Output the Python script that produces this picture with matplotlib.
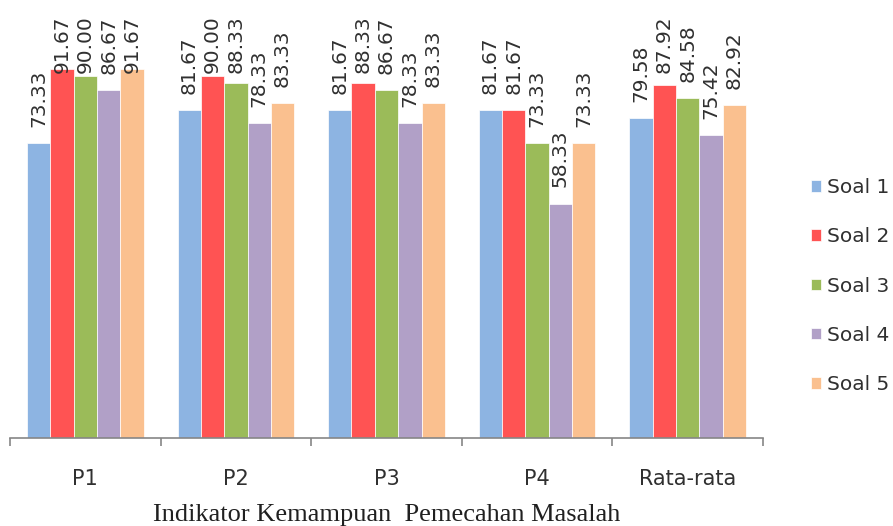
import numpy as np
import matplotlib
matplotlib.use('Agg')
import matplotlib.pyplot as plt

kategori = ['P1', 'P2', 'P3', 'P4', 'Rata-rata']
soal_1 = [73.33, 81.67, 81.67, 81.67, 79.58]
soal_2 = [91.67, 90.00, 88.33, 81.67, 87.92]
soal_3 = [90.00, 88.33, 86.67, 73.33, 84.58]
soal_4 = [86.67, 78.33, 78.33, 58.33, 75.42]
soal_5 = [91.67, 83.33, 83.33, 73.33, 82.92]
nama_seri = ['Soal 1', 'Soal 2', 'Soal 3', 'Soal 4', 'Soal 5']
warna = ['#8DB4E2', '#FF5353', '#9BBB59', '#B1A0C7', '#FAC08F']

seri = [soal_1, soal_2, soal_3, soal_4, soal_5]

fig = plt.figure(figsize=(8.93, 5.26), dpi=100)
ax = fig.add_axes([10/893, 88/526, 753/893, 402/526])

x = np.arange(len(kategori))
w = 0.155
for i in range(len(seri)):
    pos = x + (i - 2) * w
    ax.bar(pos, seri[i], width=w, color=warna[i], label=nama_seri[i],
           edgecolor='white', linewidth=0.5)
    for px, v in zip(pos, seri[i]):
        # label di atas batang, ditekan ke bawah kalau terlalu tinggi
        yl = min(v + 4, 90.7)
        ax.text(px, yl, '%.2f' % v, rotation=90, ha='center', va='bottom',
                fontsize=14.5, color='#303030', clip_on=False)

ax.set_xlim(-0.5, 4.5)
ax.set_ylim(0, 100)
ax.set_yticks([])
for s in ['top', 'right', 'left']:
    ax.spines[s].set_visible(False)
ax.spines['bottom'].set_color('#868686')
ax.spines['bottom'].set_linewidth(1.2)

ax.set_xticks(x)
ax.set_xticklabels(kategori, fontsize=15, color='#303030')
ax.tick_params(axis='x', which='major', length=0, pad=22)
ax.set_xticks(np.arange(-0.5, 5, 1), minor=True)
ax.tick_params(axis='x', which='minor', length=6, width=1.2, color='#868686')

ax.set_xlabel('Indikator Kemampuan  Pemecahan Masalah', fontsize=19,
              family='Liberation Serif', color='#202020', labelpad=11)

fig.legend(loc='center left', bbox_to_anchor=(811/893, 1 - 286/526),
           frameon=False, fontsize=14.5, labelspacing=1.5,
           handlelength=0.5, handleheight=0.5, handletextpad=0.3,
           borderaxespad=0, borderpad=0, labelcolor='#303030')

plt.savefig('out.png', dpi=100)
